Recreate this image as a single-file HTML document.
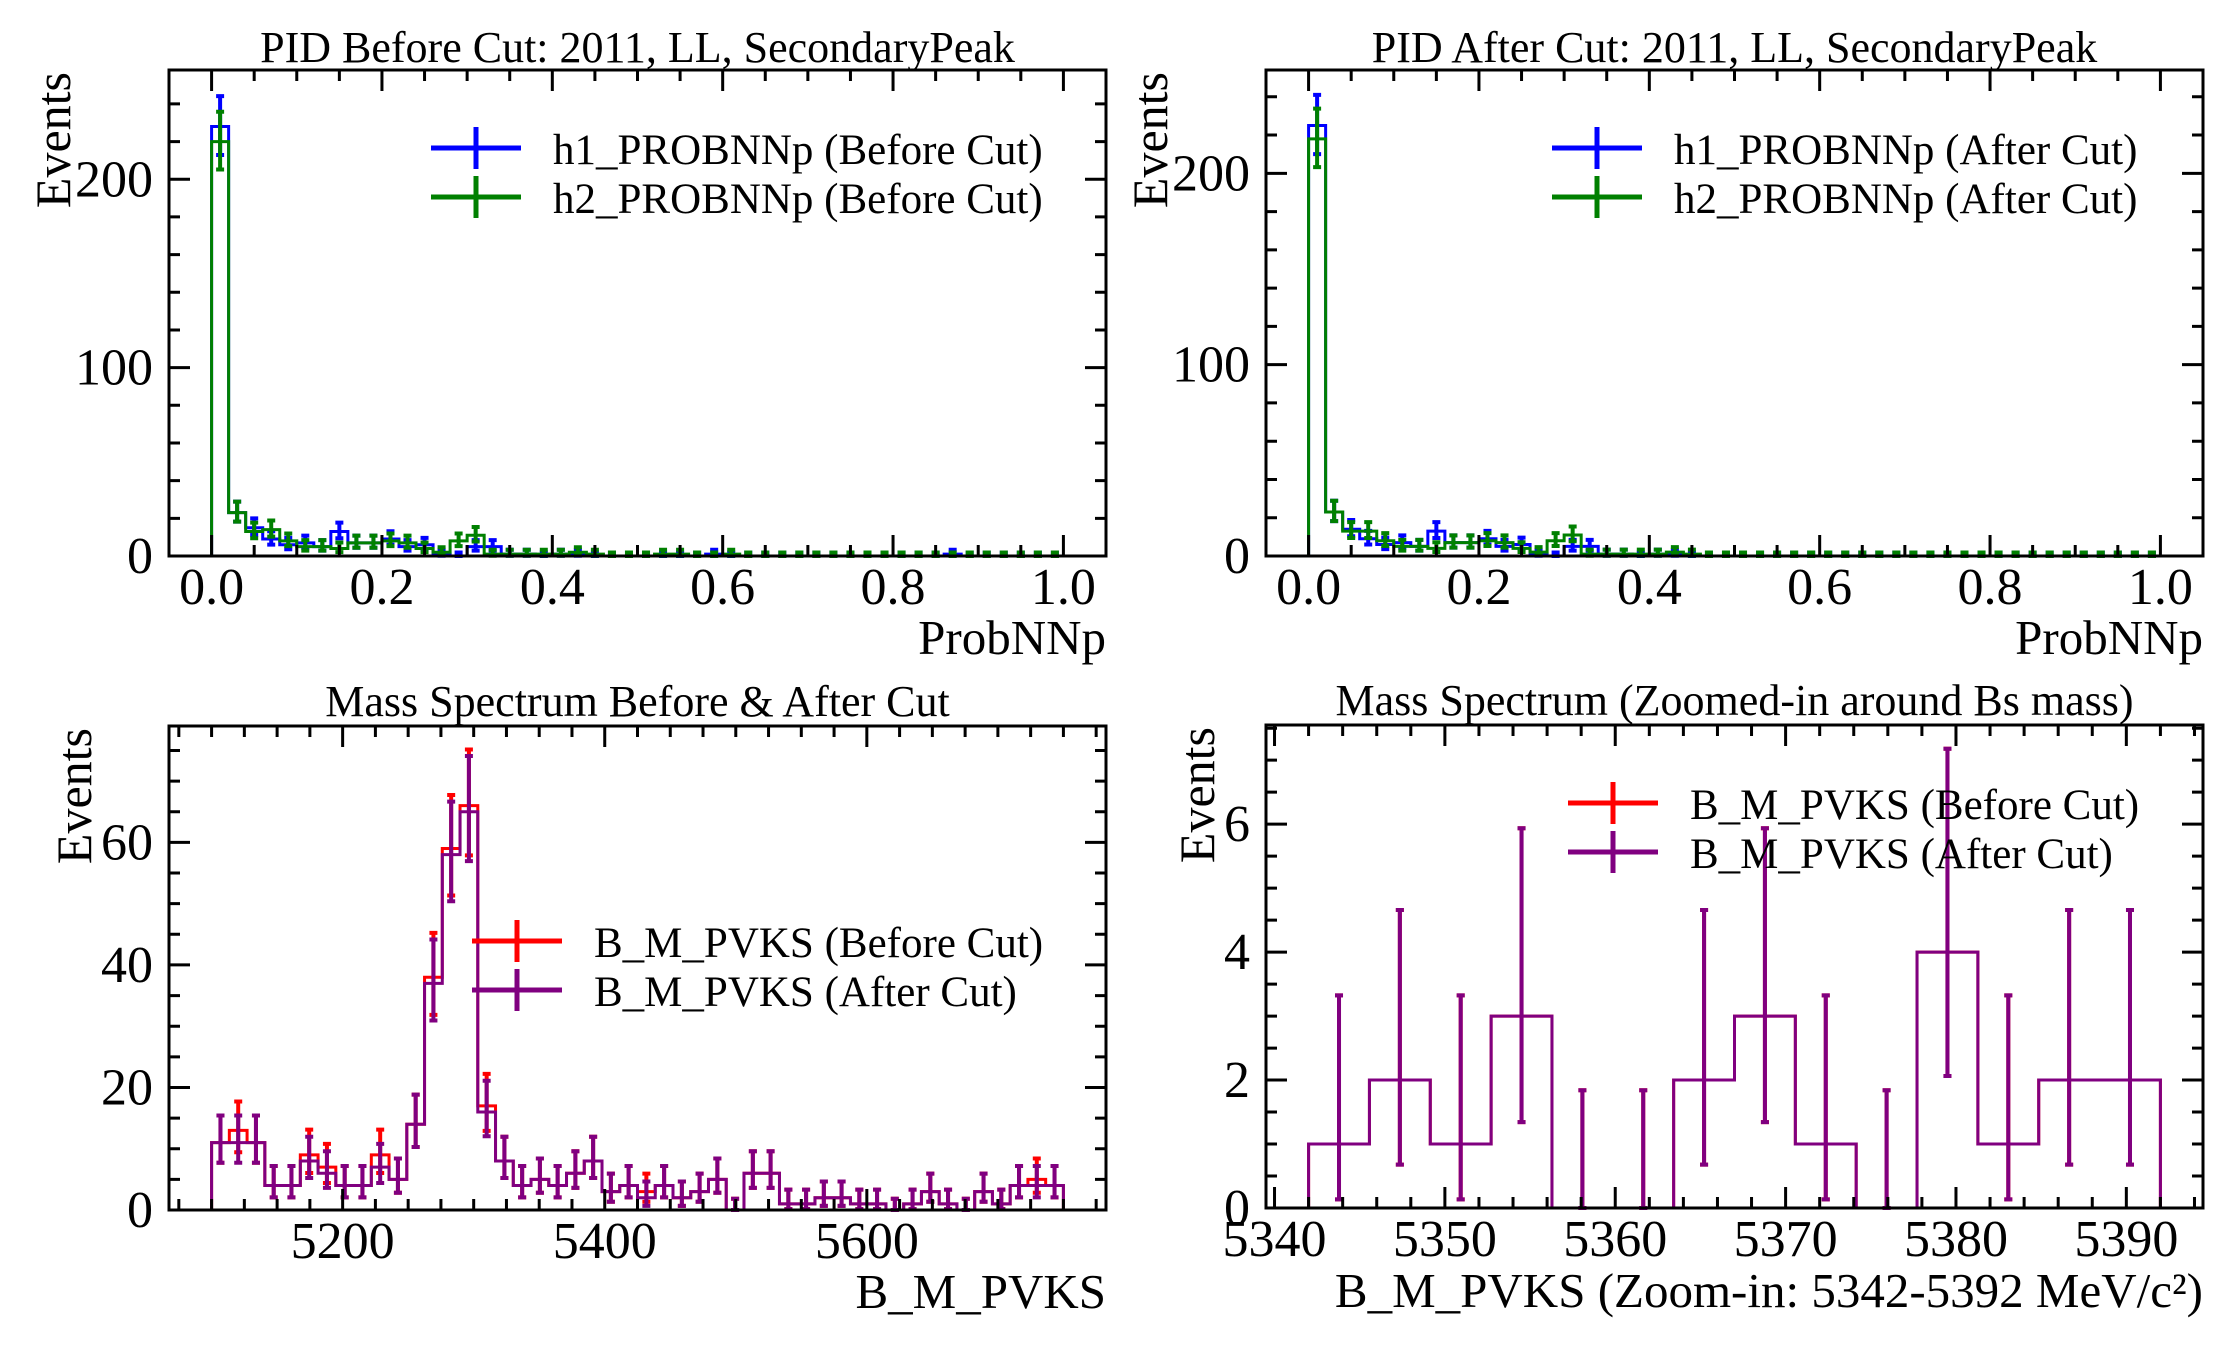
<!DOCTYPE html>
<html><head><meta charset="utf-8"><style>
html,body{margin:0;padding:0;background:#fff;}
svg{display:block;font-family:"Liberation Serif","DejaVu Serif",serif;}
</style></head><body>
<svg id="fig" width="2232" height="1350" viewBox="0 0 2232 1350" xmlns="http://www.w3.org/2000/svg"></svg>
<script>
// ---- data ----
const pidEdgesMin = 0, pidEdgesMax = 1, pidBins = 50;
const h1Before = [228,23,15,9,6,7,5,13,7,7,9,5,6,1,0,5,5,1,1,0,1,1,0,0,0,0,0,0,0,1,0,0,0,0,0,0,0,0,0,0,0,0,0,1,0,0,0,0,0,0];
const h2Before = [220,23,13,14,8,5,5,4,7,7,8,7,4,2,8,11,1,1,1,1,1,2,1,0,0,0,1,1,0,0,1,0,0,0,0,0,0,0,0,0,0,0,0,0,0,0,0,0,0,0];
const h1After  = [225,23,14,9,6,7,5,13,7,7,9,5,6,1,0,5,5,1,1,0,1,1,0,0,0,0,0,0,0,0,0,0,0,0,0,0,0,0,0,0,0,0,0,0,0,0,0,0,0,0];
const h2After  = [218,23,13,13,8,5,5,4,7,7,8,7,4,2,8,11,1,1,1,1,1,2,1,0,0,0,0,0,0,0,0,0,0,0,0,0,0,0,0,0,0,0,0,0,0,0,0,0,0,0];
const massMin = 5100, massMax = 5750, massBins = 48;
const massBefore = [11,13,11,4,4,9,7,4,4,9,5,14,38,59,66,17,8,4,5,4,6,8,3,4,3,4,2,3,5,0,6,6,1,1,2,2,1,1,0,1,3,1,0,3,1,4,5,4];
const massAfter  = [11,11,11,4,4,8,6,4,4,7,5,14,37,58,65,16,8,4,5,4,6,8,3,4,2,4,2,3,5,0,6,6,1,1,2,2,1,1,0,1,3,1,0,3,1,4,4,4];
const zoomMin = 5342, zoomMax = 5392, zoomBins = 14;
const zoomBefore = [1,2,1,3,0,0,2,3,1,0,4,1,2,2];
const zoomAfter  = [1,2,1,3,0,0,2,3,1,0,4,1,2,2];
const pidTicks = [0,0.2,0.4,0.6,0.8,1.0];
const pidTickLabels = ["0.0","0.2","0.4","0.6","0.8","1.0"];
const pidYTicks = [0,100,200];
const massTicks = [5200,5400,5600];
const massYTicks = [0,20,40,60];
const zoomTicks = [5340,5350,5360,5370,5380,5390];
const zoomYTicks = [0,2,4,6];

const NS = "http://www.w3.org/2000/svg";
const svg = document.getElementById('fig');
function el(tag, attrs, parent, text){
  const e = document.createElementNS(NS, tag);
  for (const k in attrs) e.setAttribute(k, attrs[k]);
  if (text !== undefined) e.textContent = text;
  (parent||svg).appendChild(e);
  return e;
}
function errLo(n){ return n<=0 ? 0 : n - Math.sqrt(Math.max(n-0.25,0)); }
function errHi(n){ return n<=0 ? 1.84 : n + Math.sqrt(n+0.75) + 1; }

function panel(cfg){
  const g = el('g', {});
  
  
  const L=cfg.L, R=cfg.R, T=cfg.T, B=cfg.B;
  const sx = v => L + (v-cfg.xmin)/(cfg.xmax-cfg.xmin)*(R-L);
  const sy = v => B - (v-cfg.ymin)/(cfg.ymax-cfg.ymin)*(B-T);
  const w = (cfg.hmax-cfg.hmin)/cfg.nb;
  cfg.series.forEach(s => {
    let d = 'M'+sx(cfg.hmin)+','+sy(0);
    s.vals.forEach((v,i)=>{
      d += ' L'+sx(cfg.hmin+i*w)+','+sy(v)+' L'+sx(cfg.hmin+(i+1)*w)+','+sy(v);
    });
    d += ' L'+sx(cfg.hmax)+','+sy(0);
    const p = el('path', {d:d, fill:'none', stroke:s.color, 'stroke-width':3}, g);
    
    
    s.vals.forEach((v,i)=>{
      const cx = sx(cfg.hmin+(i+0.5)*w);
      const y1 = sy(errLo(v)), y2 = sy(errHi(v));
      const eb = el('path', {d:'M'+cx+','+y1+' L'+cx+','+y2+' M'+(cx-4)+','+y1+' L'+(cx+4)+','+y1+' M'+(cx-4)+','+y2+' L'+(cx+4)+','+y2, stroke:s.color, 'stroke-width':4, fill:'none'}, g);
      
      
    });
  });
  const fr = el('rect', {x:L, y:T, width:R-L, height:B-T, fill:'none', stroke:'#000', 'stroke-width':3}, g);
  
  
  let td='';
  for (let v=cfg.xminor0; v<=cfg.xmax+1e-9; v+=cfg.xminorStep){
    if (v < cfg.xmin) continue;
    const x=sx(v); const major = cfg.xticks.some(t=>Math.abs(t-v)<1e-6);
    const len = major?21:11;
    td += 'M'+x+','+B+' L'+x+','+(B-len)+' M'+x+','+T+' L'+x+','+(T+len)+' ';
  }
  for (let v=cfg.ymin; v<=cfg.ymax+1e-9; v+=cfg.yminorStep){
    const y=sy(v); const major = cfg.yticks.some(t=>Math.abs(t-v)<1e-6);
    const len = major?21:11;
    td += 'M'+L+','+y+' L'+(L+len)+','+y+' M'+R+','+y+' L'+(R-len)+','+y+' ';
  }
  el('path', {d:td, stroke:'#000', 'stroke-width':3, fill:'none'}, g);
  cfg.xticks.forEach((v,i)=>{
    const t = el('text', {x:sx(v), y:cfg.tickBase, 'font-size':52, 'text-anchor':'middle'}, g, cfg.xlabels[i]);
    
    
  });
  cfg.yticks.forEach(v=>{
    const t = el('text', {x:L-16, y:sy(v)+17, 'font-size':52, 'text-anchor':'end'}, g, String(v));
    
    
  });
  const tt = el('text', {x:(L+R)/2, y:cfg.titleBase, 'font-size':44, 'text-anchor':'middle'}, g, cfg.title);
  
  
  const xl = el('text', {x:R, y:cfg.xlabBase, 'font-size':49, 'text-anchor':'end'}, g, cfg.xlabel);
  
  
  const yl = el('text', {x:0, y:0, 'font-size':50, 'text-anchor':'end', transform:'translate('+(cfg.ylabX+16)+','+(T+2)+') rotate(-90)'}, g, 'Events');
  
  
  cfg.series.forEach((s,i)=>{
    const ly = cfg.legY + i*49;
    const lg = el('g', {}, g);
    
    
    const hx = cfg.legX;
    el('path', {d:'M'+hx+','+ly+' L'+(hx+90)+','+ly+' M'+(hx+45)+','+(ly-21)+' L'+(hx+45)+','+(ly+21), stroke:s.color, 'stroke-width':5, fill:'none'}, lg);
    el('text', {x:hx+122, y:ly+16, 'font-size':43}, lg, s.label);
  });
}

panel({name:'pid-before-cut-panel', L:169,R:1106,T:70,B:556, xmin:-0.05,xmax:1.05,ymin:0,ymax:258,
  hmin:pidEdgesMin,hmax:pidEdgesMax,nb:pidBins, xticks:pidTicks, xlabels:pidTickLabels, xminor0:0, xminorStep:0.05,
  yticks:pidYTicks, yminorStep:20, tickBase:604, titleBase:62, xlabBase:654, ylabX:54,
  title:'PID Before Cut: 2011, LL, SecondaryPeak', xlabel:'ProbNNp', legX:431, legY:148,
  series:[{id:'h1-before',color:'#0000ff',vals:h1Before,label:'h1_PROBNNp (Before Cut)'},
          {id:'h2-before',color:'#008000',vals:h2Before,label:'h2_PROBNNp (Before Cut)'}]});
panel({name:'pid-after-cut-panel', L:1266,R:2203,T:70,B:556, xmin:-0.05,xmax:1.05,ymin:0,ymax:254,
  hmin:pidEdgesMin,hmax:pidEdgesMax,nb:pidBins, xticks:pidTicks, xlabels:pidTickLabels, xminor0:0, xminorStep:0.05,
  yticks:pidYTicks, yminorStep:20, tickBase:604, titleBase:62, xlabBase:654, ylabX:1151,
  title:'PID After Cut: 2011, LL, SecondaryPeak', xlabel:'ProbNNp', legX:1552, legY:148,
  series:[{id:'h1-after',color:'#0000ff',vals:h1After,label:'h1_PROBNNp (After Cut)'},
          {id:'h2-after',color:'#008000',vals:h2After,label:'h2_PROBNNp (After Cut)'}]});
panel({name:'mass-spectrum-panel', L:169,R:1106,T:726,B:1210, xmin:5067.5,xmax:5782.5,ymin:0,ymax:79,
  hmin:massMin,hmax:massMax,nb:massBins, xticks:massTicks, xlabels:massTicks.map(String), xminor0:5075, xminorStep:25,
  yticks:massYTicks, yminorStep:5, tickBase:1258, titleBase:716, xlabBase:1308, ylabX:75,
  title:'Mass Spectrum Before & After Cut', xlabel:'B_M_PVKS', legX:472, legY:941,
  series:[{id:'mass-before',color:'#ff0000',vals:massBefore,label:'B_M_PVKS (Before Cut)'},
          {id:'mass-after',color:'#800080',vals:massAfter,label:'B_M_PVKS (After Cut)'}]});
panel({name:'mass-zoom-panel', L:1266,R:2203,T:725,B:1208, xmin:5339.5,xmax:5394.5,ymin:0,ymax:7.55,
  hmin:zoomMin,hmax:zoomMax,nb:zoomBins, xticks:zoomTicks, xlabels:zoomTicks.map(String), xminor0:5340, xminorStep:2,
  yticks:zoomYTicks, yminorStep:0.5, tickBase:1256, titleBase:715, xlabBase:1307, ylabX:1198,
  title:'Mass Spectrum (Zoomed-in around Bs mass)', xlabel:'B_M_PVKS (Zoom-in: 5342-5392 MeV/c²)', legX:1568, legY:803,
  series:[{id:'zoom-before',color:'#ff0000',vals:zoomBefore,label:'B_M_PVKS (Before Cut)'},
          {id:'zoom-after',color:'#800080',vals:zoomAfter,label:'B_M_PVKS (After Cut)'}]});
</script>
</body></html>
